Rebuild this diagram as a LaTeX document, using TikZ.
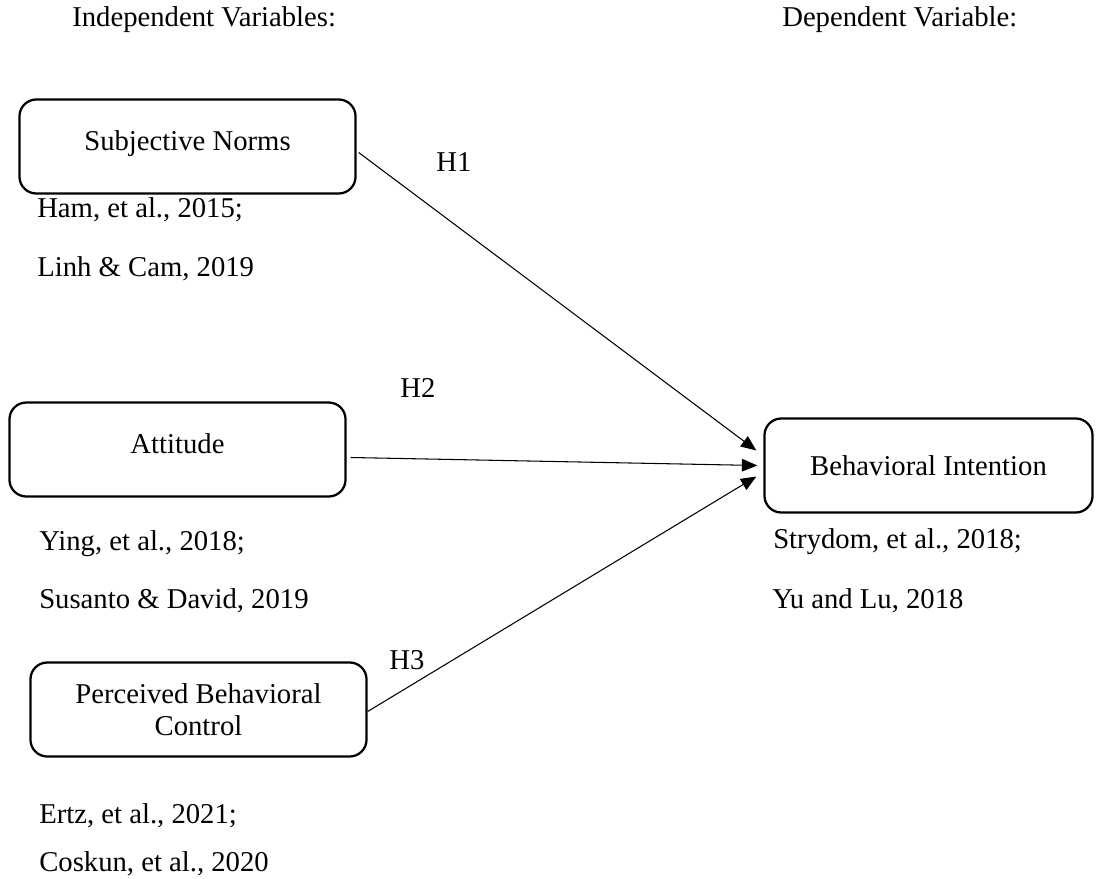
\documentclass[tikz,border=0pt]{standalone}
\usepackage{fontspec}
\setmainfont{Liberation Serif}
\usetikzlibrary{arrows.meta,calc}

\begin{document}
\begin{tikzpicture}[x=0.025cm, y=-0.025cm,
                    font=\fontsize{20.4}{23}\selectfont,
                    varbox/.style={draw, line width=1.6pt, rounded corners=12pt, align=center,
                                   minimum width=8.4cm, minimum height=2.35cm, inner sep=0pt},
                    reftext/.style={anchor=base west, inner sep=0pt},
                    hyp/.style={inner sep=0pt},
                    link/.style={-{Triangle[length=11pt,width=9pt]}, line width=0.75pt}
]
\useasboundingbox (0,0) rectangle (1097,879);

% Column headings
\node [reftext] at (72,27) (indep) {Independent Variables:};
\node [reftext] at (782,27) (dep) {Dependent Variable:};

% Draw the variable boxes
\node [varbox, text depth=8pt] at (187.5,146.5) (sn) {Subjective Norms};
\node [varbox, text depth=8pt] at (177.5,449.5) (att) {Attitude};
\node [varbox] at (198.5,709.5) (pbc) {Perceived Behavioral\\Control};
\node [varbox, minimum width=8.2cm] at (928.5,465.5) (bi) {Behavioral Intention};

% References under each box
\node [reftext] at (37,218) (snref1) {Ham, et al., 2015;};
\node [reftext] at (37,277) (snref2) {Linh \& Cam, 2019};
\node [reftext] at (39,550) (attref1) {Ying, et al., 2018;};
\node [reftext] at (39,608) (attref2) {Susanto \& David, 2019};
\node [reftext] at (39,823) (pbcref1) {Ertz, et al., 2021;};
\node [reftext] at (39,871) (pbcref2) {Coskun, et al., 2020};
\node [reftext] at (773,548) (biref1) {Strydom, et al., 2018;};
\node [reftext] at (772,608) (biref2) {Yu and Lu, 2018};

% Hypothesis labels
\node [hyp] at (454,162) (h1) {H1};
\node [hyp] at (418,388) (h2) {H2};
\node [hyp] at (407,660) (h3) {H3};

% Hypothesis arrows into the dependent variable
\draw [link] ($(sn.east)+(2,6)$) -- ($(bi.west)+(-7,-15)$);
\draw [link] ($(att.east)+(4,8)$) -- ($(bi.west)+(-6,0)$);
\draw [link] ($(pbc.east)+(0,2)$) -- ($(bi.west)+(-7,11)$);

\end{tikzpicture}
\end{document}
